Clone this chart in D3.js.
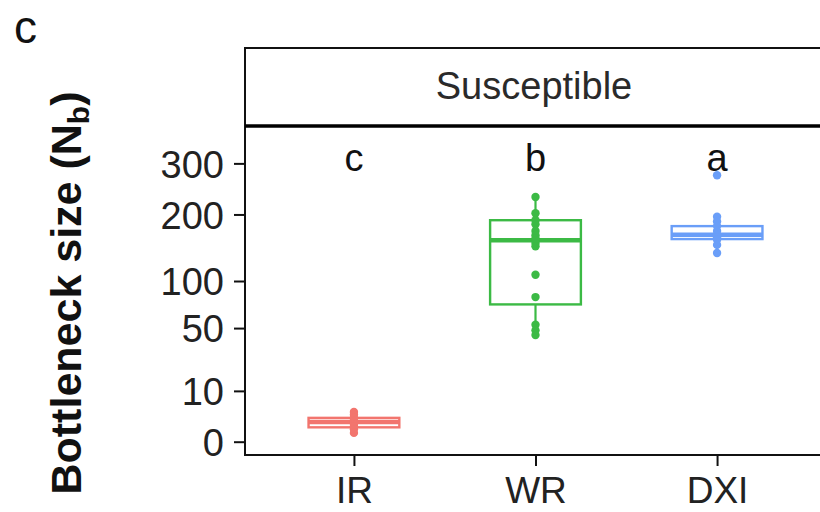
<!DOCTYPE html>
<html><head><meta charset="utf-8">
<script src="https://cdn.jsdelivr.net/npm/d3@7"></script>
<style>
html,body{margin:0;padding:0;background:#fff;}
svg{display:block;font-family:"Liberation Sans",Arial,Helvetica,sans-serif;}
</style></head>
<body>
<svg id="chart" width="820" height="512"></svg>
<script>
const categories = ["IR", "WR", "DXI"];
const sigLetters = ["c", "b", "a"];
const colors = ["#F2756E", "#3CBA45", "#6A9EF8"];
const boxQ1 = [0.8, 73, 159];
const boxMedian = [1.5, 157, 166];
const boxQ3 = [2.2, 190, 180];
const whiskerLow = [0.3, 44, 138];
const whiskerHigh = [3.4, 232, 196];
const pointsIR = [3.4, 2.8, 2.2, 1.8, 1.5, 1.2, 0.9, 0.6, 0.3];
const pointsWR = [232, 202, 190, 183, 172, 165, 160, 157, 153, 148, 108, 81, 53, 48, 44];
const pointsDXI = [275, 196, 188, 180, 172, 166, 162, 158, 150, 138];
const yTicks = [0, 10, 50, 100, 200, 300];
const stripLabel = "Susceptible";
const panelLetter = "c";

const allPoints = [pointsIR, pointsWR, pointsDXI];

const svg = d3.select("#chart");
const L = 245, R = 826, T = 126, B = 455, stripTop = 48;

const x = d3.scalePoint().domain(categories).range([L, R]).padding(0.6);
const step = x.step();
const boxW = step * 0.5;
const y = d3.scalePow().exponent(0.5).domain([-0.685, 386]).range([B, T]);

// strip
svg.append("rect").attr("x", L).attr("y", stripTop).attr("width", R - L + 10).attr("height", T - stripTop)
  .attr("fill", "#fff").attr("stroke", "#111").attr("stroke-width", 2);
svg.append("text").attr("x", 534).attr("y", 99).attr("text-anchor", "middle")
  .attr("font-size", 38).attr("fill", "#2a2a2a").text(stripLabel);

// boxes
categories.forEach((c, i) => {
  const cx = x(c), col = colors[i];
  const g = svg.append("g");
  g.append("line").attr("x1", cx).attr("x2", cx).attr("y1", y(boxQ3[i])).attr("y2", y(whiskerHigh[i]))
    .attr("stroke", col).attr("stroke-width", 2.2);
  g.append("line").attr("x1", cx).attr("x2", cx).attr("y1", y(boxQ1[i])).attr("y2", y(whiskerLow[i]))
    .attr("stroke", col).attr("stroke-width", 2.2);
  g.append("rect").attr("x", cx - boxW / 2).attr("width", boxW)
    .attr("y", y(boxQ3[i])).attr("height", y(boxQ1[i]) - y(boxQ3[i]))
    .attr("fill", "#fff").attr("stroke", col).attr("stroke-width", 2.4);
  g.append("line").attr("x1", cx - boxW / 2).attr("x2", cx + boxW / 2)
    .attr("y1", y(boxMedian[i])).attr("y2", y(boxMedian[i]))
    .attr("stroke", col).attr("stroke-width", 4.5);
  g.selectAll("circle").data(allPoints[i]).join("circle")
    .attr("cx", cx).attr("cy", d => y(d)).attr("r", 4.2).attr("fill", col);
  svg.append("text").attr("x", cx).attr("y", 171).attr("text-anchor", "middle")
    .attr("font-size", 38).attr("fill", "#111").text(sigLetters[i]);
});

// panel border
svg.append("rect").attr("x", L).attr("y", T).attr("width", R - L + 10).attr("height", B - T)
  .attr("fill", "none").attr("stroke", "#111").attr("stroke-width", 2);
svg.append("line").attr("x1", L).attr("x2", 820).attr("y1", T).attr("y2", T)
  .attr("stroke", "#000").attr("stroke-width", 3.5);

// axes
const yAxis = d3.axisLeft(y).tickValues(yTicks).tickSize(11).tickPadding(10).tickFormat(d3.format("d"));
const gy = svg.append("g").attr("transform", `translate(${L},0)`).call(yAxis);
gy.select(".domain").remove();
gy.selectAll(".tick line").attr("stroke", "#111").attr("stroke-width", 2);
gy.selectAll(".tick text").attr("font-size", 38).attr("fill", "#222").attr("font-family", "Liberation Sans, Arial, sans-serif").attr("dy", "0.36em");

const xAxis = d3.axisBottom(x).tickSize(11).tickPadding(10);
const gx = svg.append("g").attr("transform", `translate(0,${B})`).call(xAxis);
gx.select(".domain").remove();
gx.selectAll(".tick line").attr("stroke", "#111").attr("stroke-width", 2);
gx.selectAll(".tick text").attr("font-size", 37).attr("fill", "#222").attr("font-family", "Liberation Sans, Arial, sans-serif").attr("dy", "0.72em");

// y title
const yt = svg.append("text").attr("transform", "translate(81,293) rotate(-90)")
  .attr("text-anchor", "middle").attr("font-size", 43).attr("font-weight", "bold").attr("fill", "#111");
yt.append("tspan").text("Bottleneck size (N");
yt.append("tspan").attr("font-size", 30).attr("dy", 8).text("b");
yt.append("tspan").attr("dy", -8).text(")");

// panel letter
svg.append("text").attr("x", 14).attr("y", 43).attr("font-size", 46).attr("fill", "#111").text(panelLetter);
</script>
</body></html>
